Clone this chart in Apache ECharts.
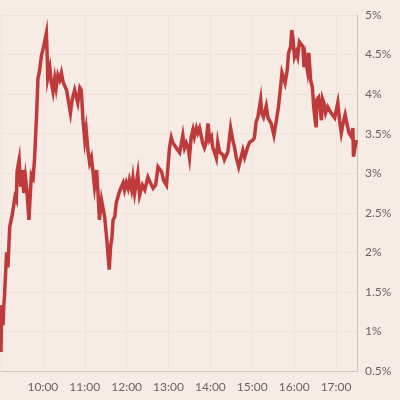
<!DOCTYPE html>
<html>
<head>
<meta charset="utf-8">
<script src="https://cdn.jsdelivr.net/npm/echarts@6/dist/echarts.min.js"></script>
<style>
html,body{margin:0;padding:0;background:#f6ebe5;}
#c{width:400px;height:400px;}
</style>
</head>
<body>
<div id="c"></div>
<script>
// minutes since midnight
const times = [540,541,543,544,545,548,550,551,552.5,556,560,562,563,566,568,571,572.5,575,577,580,583.5,586,588,591,593,595,598,600,602.5,605,606.5,607,610,612,614.5,617,619,621.5,624,626.5,629,631,634,637,639.5,642,645.5,648,650,653,655,657.5,660,662,664.5,667,669.5,672,674,677,679,681,684,688.5,692,695,697,699,700.5,703,705,709,712.5,715,717,719.5,722,724,727,729,731.5,736,738.5,742.5,746,750.5,754,758,761.5,765,767,770,773,777,779,781.5,784,786,791,796,798,800.5,803,805.5,808,810,812.5,815,817,820,822,824.5,829,831.5,834,836.5,839,841.5,843.5,846,848.5,850.5,853,855.5,858,860,863,865,869,872,874.5,877,880.5,883,886.5,889,893,896,901,903,905.5,908,912,913.5,916,920,922.5,927,931,934.5,937.5,940.5,942.5,945,947,950,952,955,956.5,958.5,960.5,963,965,967.5,970,972.5,974,976,979,981,983.5,986,988,990,991.5,992.5,995,997.5,999,1000.5,1002.5,1005,1008,1010.5,1013,1018,1020,1022.5,1025,1027.5,1030,1033,1035.5,1038.5,1042,1044,1045,1046.5,1049];
const rates = [0.74,1.33,1.08,1.33,1.44,2.00,1.81,2.03,2.32,2.47,2.70,2.66,3.02,3.17,2.83,3.04,2.75,2.95,2.79,2.41,2.98,2.94,3.17,3.74,4.20,4.28,4.49,4.56,4.66,4.77,4.41,4.20,4.33,4.15,4.03,4.20,4.08,4.24,4.18,4.27,4.15,4.14,4.05,3.89,3.76,3.93,4.05,3.96,3.89,4.08,4.05,3.67,3.42,3.55,3.29,3.13,3.20,3.00,2.83,3.04,2.75,2.41,2.66,2.45,2.12,1.78,2.07,2.19,2.41,2.45,2.62,2.75,2.83,2.88,2.79,2.88,2.81,2.91,2.79,2.94,2.75,3.00,2.72,2.85,2.79,2.95,2.88,2.81,2.85,3.08,3.10,3.02,2.91,2.85,2.85,3.33,3.45,3.39,3.32,3.26,3.26,3.48,3.32,3.38,3.32,3.20,3.46,3.55,3.46,3.57,3.51,3.57,3.38,3.32,3.39,3.63,3.42,3.46,3.32,3.26,3.19,3.39,3.27,3.29,3.23,3.17,3.23,3.27,3.57,3.42,3.33,3.20,3.08,3.17,3.29,3.20,3.32,3.39,3.42,3.45,3.65,3.71,3.93,3.76,3.71,3.85,3.70,3.63,3.48,3.67,3.84,4.09,4.27,4.20,4.14,4.30,4.52,4.60,4.81,4.68,4.47,4.53,4.47,4.66,4.65,4.60,4.34,4.47,4.30,4.52,4.18,4.09,3.84,3.67,3.58,3.93,3.96,3.80,3.67,3.94,3.89,3.76,3.84,3.86,3.76,3.70,3.71,3.89,3.67,3.51,3.63,3.74,3.63,3.51,3.46,3.57,3.21,3.29,3.42];
const yTicks = [0.5,1,1.5,2,2.5,3,3.5,4,4.5,5];
const hourLabels = ['10:00','11:00','12:00','13:00','14:00','15:00','16:00','17:00'];

const data = times.map((t,i)=>[t,rates[i]]);
const chart = echarts.init(document.getElementById('c'));
const labelFont = {color:'#6b6562', fontFamily:'Lato', fontSize:12};
chart.setOption({
  backgroundColor:'#f6ebe5',
  animation:false,
  grid:{left:1, right:43, top:15, bottom:29, containLabel:false},
  xAxis:{
    type:'value', min:540, max:1050, interval:60,
    axisLine:{show:true, lineStyle:{color:'#cfc3bb', width:1}},
    axisTick:{show:false},
    splitLine:{show:true, lineStyle:{color:'#efe3d9', width:1}},
    axisLabel:Object.assign({margin:10, showMinLabel:false, showMaxLabel:false,
      formatter:function(v){
        const h=Math.round(v/60);
        const s=(h<10?'0':'')+h+':00';
        return hourLabels.indexOf(s)>=0 ? s : '';
      }}, labelFont)
  },
  yAxis:{
    type:'value', position:'right', min:yTicks[0], max:yTicks[yTicks.length-1], interval:0.5,
    axisLine:{show:true, lineStyle:{color:'#cfc3bb', width:1}},
    axisTick:{show:false},
    splitLine:{show:true, lineStyle:{color:'#efe3d9', width:1}},
    axisLabel:Object.assign({margin:8, formatter:function(v){return v+'%';}}, labelFont)
  },
  series:[{
    type:'line', data:data, symbol:'none', smooth:false,
    lineStyle:{color:'#bf3b3b', width:3.5, join:'miter'}
  }]
});
</script>
</body>
</html>
